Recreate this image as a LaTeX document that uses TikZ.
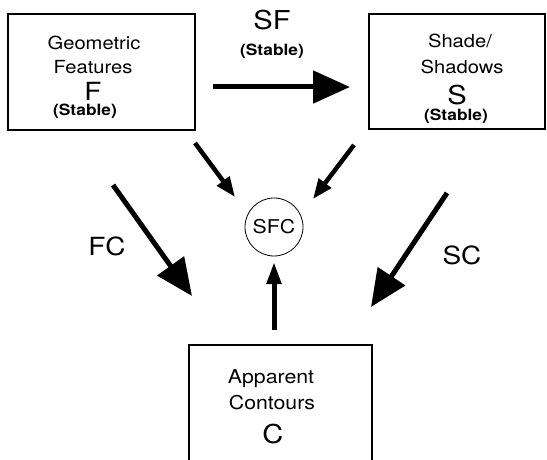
\documentclass[tikz,border=0pt]{standalone}
\usepackage{fontspec}
\setmainfont{TeX Gyre Heros}[FakeStretch=1.12]
\usetikzlibrary{arrows.meta}
\tikzset{
  box/.style={draw, line width=1.1pt, inner sep=0pt, minimum width=#1},
  lbl/.style={anchor=base, inner sep=0pt},
  stab/.style={lbl, font=\fontsize{15.5}{15.5}\selectfont\bfseries},
  big/.style={line width=5pt, -{Triangle[length=37pt,width=32pt]}},
  small/.style={line width=4.5pt, -{Triangle[length=20pt,width=15pt]}},
}
\begin{document}
\begin{tikzpicture}[x=1pt,y=-1pt]
\useasboundingbox (0,0) rectangle (547,460);
\clip (0,0) rectangle (547,460);
% boxes
\node[box=187pt, minimum height=116pt] (F) at (101.5,72) {};
\node[box=176pt, minimum height=115pt] (S) at (457,71.5) {};
\node[box=183pt, minimum height=140pt] (C) at (280.5,415) {};
\node[draw, circle, line width=0.8pt, minimum size=58pt, inner sep=0pt, font=\fontsize{19}{19}\selectfont] (SFC) at (274,227) {SFC};
% left box text
\node[lbl, font=\fontsize{18}{18}\selectfont] (f1) at (94,50) {Geometric};
\node[lbl, font=\fontsize{18}{18}\selectfont] (f2) at (93,74) {Features};
\node[lbl, font=\fontsize{25}{25}\selectfont] (f3) at (93,101) {F};
\node[stab] (f4) at (85,115.5) {(Stable)};
% right box text
\node[lbl, font=\fontsize{18}{18}\selectfont] (s1) at (460,48) {Shade/};
\node[lbl, font=\fontsize{18}{18}\selectfont] (s2) at (462,74) {Shadows};
\node[lbl, font=\fontsize{26}{26}\selectfont] (s3) at (457,105) {S};
\node[stab] (s4) at (456,120.5) {(Stable)};
% bottom box text
\node[lbl, font=\fontsize{19}{19}\selectfont] (c1) at (271,383) {Apparent};
\node[lbl, font=\fontsize{19}{19}\selectfont] (c2) at (272,409) {Contours};
\node[lbl, font=\fontsize{26}{26}\selectfont] (c3) at (273,443) {C};
% arrow labels
\node[lbl, font=\fontsize{26}{26}\selectfont] (sf) at (272,30) {SF};
\node[stab] (sfs) at (272,56) {(Stable)};
\node[lbl, font=\fontsize{25}{25}\selectfont] (fc) at (107,255) {FC};
\node[lbl, font=\fontsize{25}{25}\selectfont] (sc) at (462,264) {SC};
% arrow end points
\coordinate (sfA) at (213,87);  \coordinate (sfB) at (350,87);
\coordinate (fcA) at (113,185); \coordinate (fcB) at (192,296);
\coordinate (scA) at (447,193); \coordinate (scB) at (371,307);
\coordinate (lA) at (195,143);  \coordinate (lB) at (235,197);
\coordinate (rA) at (354,145);  \coordinate (rB) at (313,199);
\coordinate (uA) at (274,330);  \coordinate (uB) at (274,262);
% arrows
\draw[big] (sfA) -- (sfB);
\draw[big] (fcA) -- (fcB);
\draw[big] (scA) -- (scB);
\draw[small] (lA) -- (lB);
\draw[small] (rA) -- (rB);
\draw[line width=5pt, -{Triangle[length=22pt,width=14pt]}] (uA) -- (uB);
\end{tikzpicture}
\end{document}
